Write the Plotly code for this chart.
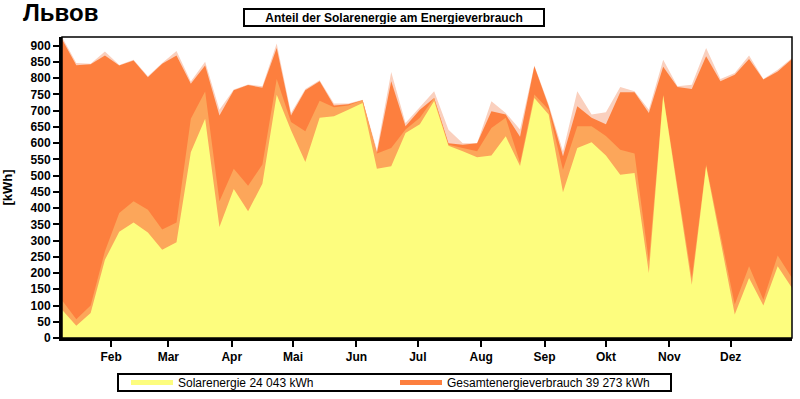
import plotly.graph_objects as go

# Weekly dates (one point per week)
dates = [
    "2023-01-08", "2023-01-15", "2023-01-22", "2023-01-29", "2023-02-05", "2023-02-12",
    "2023-02-19", "2023-02-26", "2023-03-05", "2023-03-12", "2023-03-19", "2023-03-26",
    "2023-04-02", "2023-04-09", "2023-04-16", "2023-04-23", "2023-04-30", "2023-05-07",
    "2023-05-14", "2023-05-21", "2023-05-28", "2023-06-04", "2023-06-11", "2023-06-18",
    "2023-06-25", "2023-07-02", "2023-07-09", "2023-07-16", "2023-07-23", "2023-07-30",
    "2023-08-06", "2023-08-13", "2023-08-20", "2023-08-27", "2023-09-03", "2023-09-10",
    "2023-09-17", "2023-09-24", "2023-10-01", "2023-10-08", "2023-10-15", "2023-10-22",
    "2023-10-29", "2023-11-05", "2023-11-12", "2023-11-19", "2023-11-26", "2023-12-03",
    "2023-12-10", "2023-12-17", "2023-12-24", "2023-12-31",
]

# Total energy consumption (upper band) [kWh]
total_upper = [
    927, 847, 845, 882, 841, 857, 806, 847, 884, 790, 851, 703, 765,
    781, 775, 907, 693, 767, 794, 722, 722, 734, 580, 819, 662, 710,
    760, 641, 600, 600, 729, 693, 642, 839, 719, 575, 760, 688, 695,
    773, 760, 703, 857, 775, 780, 893, 798, 816, 870, 798, 826, 862,
]
# Total energy consumption [kWh]
total = [
    920, 840, 843, 870, 839, 855, 803, 845, 870, 783, 839, 685, 763,
    779, 771, 893, 685, 763, 791, 716, 720, 732, 570, 791, 652, 703,
    739, 600, 595, 600, 698, 688, 620, 837, 714, 560, 714, 678, 658,
    757, 757, 693, 835, 773, 767, 868, 791, 811, 859, 796, 821, 859,
]
# Solar energy (upper band) [kWh]
solar_upper = [
    116, 58, 100, 267, 385, 421, 395, 334, 356, 675, 759, 421, 521,
    469, 534, 798, 665, 637, 731, 711, 716, 732, 568, 585, 642, 678,
    739, 595, 585, 575, 647, 678, 540, 750, 703, 518, 652, 652, 622,
    580, 568, 236, 750, 470, 185, 534, 323, 103, 221, 118, 254, 185,
]
# Solar energy [kWh]
solar = [
    87, 38, 77, 241, 327, 356, 325, 272, 295, 572, 675, 342, 459,
    390, 475, 749, 640, 542, 678, 683, 703, 724, 521, 529, 631, 658,
    730, 592, 575, 557, 562, 621, 530, 739, 688, 449, 585, 603, 562,
    503, 508, 200, 746, 457, 164, 529, 303, 72, 185, 100, 221, 154,
]

month_ticks = ["2023-02-01", "2023-03-01", "2023-04-01", "2023-05-01", "2023-06-01",
               "2023-07-01", "2023-08-01", "2023-09-01", "2023-10-01", "2023-11-01",
               "2023-12-01"]
month_labels = ["Feb", "Mar", "Apr", "Mai", "Jun", "Jul", "Aug", "Sep", "Okt", "Nov", "Dez"]

legend_names = ["Solarenergie 24 043 kWh", "Gesamtenergieverbrauch 39 273 kWh"]

C_PINK = "#FAD0BE"
C_DARK = "#FD7F3E"
C_LIGHT = "#FCA65A"
C_YELLOW = "#FDFD7E"

fig = go.Figure()
for vals, col in [(total_upper, C_PINK), (total, C_DARK), (solar_upper, C_LIGHT), (solar, C_YELLOW)]:
    fig.add_trace(go.Scatter(x=dates, y=vals, mode="lines", line=dict(width=0, color=col),
                             fill="tozeroy", fillcolor=col, showlegend=False, hoverinfo="skip"))

# legend entries
fig.add_trace(go.Scatter(x=[None], y=[None], mode="lines", name=legend_names[0],
                         line=dict(color=C_YELLOW, width=5)))
fig.add_trace(go.Scatter(x=[None], y=[None], mode="lines", name=legend_names[1],
                         line=dict(color=C_DARK, width=5)))

FONT = "Liberation Sans, Arial, sans-serif"

# plot-area geometry in pixels (used only to place the legend frame)
PL, PR, PT, PB = 62, 792, 37, 338


def px_x(v):
    return (v - PL) / (PR - PL)


def px_y(v):
    return (PB - v) / (PB - PT)


fig.update_layout(
    width=800, height=399,
    margin=dict(l=PL, r=800 - PR, t=PT, b=399 - PB, autoexpand=False),
    paper_bgcolor="white", plot_bgcolor="white",
    font=dict(family=FONT, size=12, color="black"),
    showlegend=True,
    legend=dict(orientation="h", xref="container", yref="container",
                x=126 / 800, y=1 - 368 / 399, xanchor="left", yanchor="top",
                bgcolor="rgba(0,0,0,0)", borderwidth=0, entrywidth=212, itemwidth=42,
                tracegroupgap=0,
                font=dict(size=12, family=FONT)),
    xaxis=dict(type="date", range=["2023-01-08", "2023-12-31"], automargin=False,
               tickvals=month_ticks, ticktext=month_labels,
               ticks="outside", ticklen=6, tickwidth=2, tickcolor="black",
               showline=True, linewidth=3, linecolor="black", showgrid=False, zeroline=False,
               tickfont=dict(size=12, family=FONT, weight="bold")),
    yaxis=dict(range=[0, 927], dtick=50, tick0=0, automargin=False,
               ticks="outside", ticklen=6, tickwidth=2, tickcolor="black",
               showline=True, linewidth=3, linecolor="black", showgrid=False, zeroline=False,
               tickfont=dict(size=12, family=FONT, weight="bold")),
    shapes=[
        dict(type="rect", xref="paper", yref="paper", x0=0, x1=1, y0=0, y1=1,
             line=dict(color="black", width=1.5), layer="above"),
        dict(type="rect", xref="paper", yref="paper",
             x0=px_x(118), x1=px_x(671), y0=px_y(374), y1=px_y(391),
             line=dict(color="black", width=2), fillcolor="rgba(0,0,0,0)", layer="above"),
    ],
    annotations=[
        dict(text="<b>Львов</b>", xref="paper", yref="paper", x=-0.0562, y=1.081,
             xanchor="left", yanchor="middle", showarrow=False,
             font=dict(size=24, family=FONT, color="black")),
        dict(text="<b>Anteil der Solarenergie am Energieverbrauch</b>", xref="paper", yref="paper",
             x=0.4548, y=1.0663, xanchor="center", yanchor="middle", showarrow=False,
             width=296, height=13, borderpad=1, bordercolor="black", borderwidth=2,
             bgcolor="white", font=dict(size=12, family=FONT, color="black")),
        dict(text="<b>[kWh]</b>", xref="paper", yref="paper", x=-0.074, y=0.5,
             xanchor="center", yanchor="middle", textangle=-90, showarrow=False,
             font=dict(size=13, family=FONT, color="black")),
    ],
)

fig.write_html("out.html", config={"displayModeBar": False},
               post_script="document.body.style.margin='0';document.body.style.padding='0';")
